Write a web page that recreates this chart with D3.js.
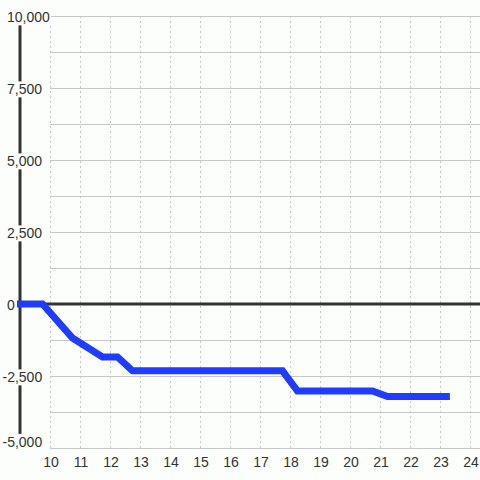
<!DOCTYPE html>
<html><head><meta charset="utf-8">
<script src="https://cdn.jsdelivr.net/npm/d3@7"></script>
<style>html,body{margin:0;padding:0;background:#fcfefc;}svg{display:block;}</style>
</head><body>
<svg id="c" width="480" height="480"></svg>
<script>
const xValues = [8.9, 9.75, 10.75, 11.75, 12.25, 12.75, 17.75, 18.25, 20.75, 21.25, 23.33];
const yValues = [0, 0, -1180, -1840, -1840, -2320, -2320, -3020, -3020, -3210, -3210];
const xTicks = [10,11,12,13,14,15,16,17,18,19,20,21,22,23,24];
const yTicks = [-5000, -2500, 0, 2500, 5000, 7500, 10000];
const yGrid = [-5000,-3750,-2500,-1250,0,1250,2500,3750,5000,6250,7500,8750,10000];

const bg = "#fcfefc";
const svg = d3.select("#c");
svg.append("rect").attr("width",480).attr("height",480).attr("fill",bg);
const x = d3.scaleLinear().domain([9, 24 + 1/3]).range([20, 480]);
const y = d3.scaleLinear().domain([-5000, 10000]).range([448, 16]);
const fmt = d3.formatLocale({decimal:".", thousands:",", grouping:[3], currency:["",""], minus:"-"}).format(",");

// vertical dashed grid
svg.append("g").selectAll("line").data(xTicks).join("line")
  .attr("x1", d=>x(d)).attr("x2", d=>x(d)).attr("y1", y(10000)).attr("y2", y(-5000))
  .attr("stroke","#c8c8c8").attr("stroke-width",1).attr("stroke-dasharray","2,3")
  .attr("shape-rendering","crispEdges");
// horizontal grid
svg.append("g").selectAll("line").data(yGrid).join("line")
  .attr("x1", x(10)).attr("x2", 480).attr("y1", d=>y(d)).attr("y2", d=>y(d))
  .attr("stroke","#c8c8c8").attr("stroke-width",1).attr("shape-rendering","crispEdges");
// zero line
svg.append("line").attr("x1",17).attr("x2",480).attr("y1",y(0)).attr("y2",y(0))
  .attr("stroke","#333").attr("stroke-width",3);
// axis bar
svg.append("line").attr("x1",x(9)).attr("x2",x(9)).attr("y1",y(10000)).attr("y2",y(-5000))
  .attr("stroke","#333").attr("stroke-width",3);

// data line
const pts = xValues.map((v,i)=>[v, yValues[i]]);
svg.append("path").datum(pts)
  .attr("d", d3.line().x(d=>x(d[0])).y(d=>y(d[1])))
  .attr("fill","none").attr("stroke","#1f3cff").attr("stroke-width",7)
  .attr("stroke-linejoin","miter");

// y labels with background
const yl = svg.append("g");
yTicks.forEach(v=>{
  const g = yl.append("g");
  let cy = Math.min(y(v)+1.5, 442);
  const t = g.append("text").text(fmt(v))
    .attr("x", v<0 ? 2.5 : 7).attr("y", cy).attr("dy","0.35em")
    .attr("font-family","Liberation Sans, Arial, sans-serif").attr("font-size",14).attr("fill","#333");
  const b = t.node().getBBox();
  g.insert("rect","text").attr("x",b.x-1).attr("y",b.y).attr("width",b.width+2).attr("height",b.height)
    .attr("fill",bg);
});
// x labels
svg.append("g").selectAll("text").data(xTicks).join("text")
  .text(d=>d).attr("x",d=>x(d)+1).attr("y",462).attr("dy","0.35em").attr("text-anchor","middle")
  .attr("font-family","Liberation Sans, Arial, sans-serif").attr("font-size",14).attr("fill","#333");
</script>
</body></html>
